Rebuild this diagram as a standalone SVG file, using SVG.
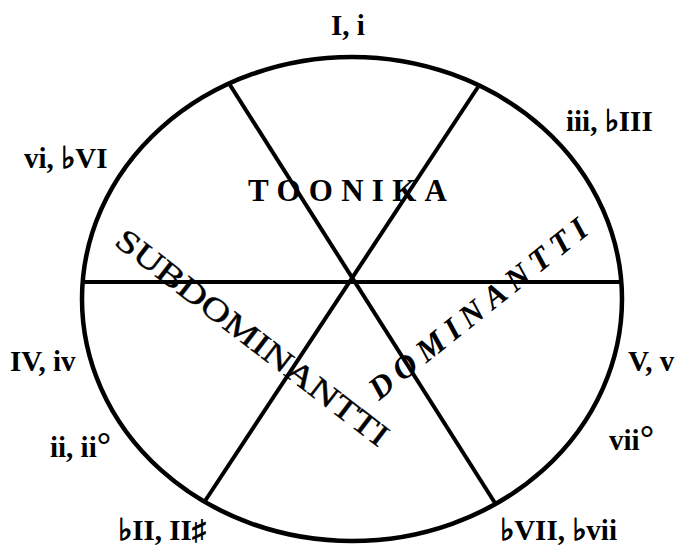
<svg xmlns="http://www.w3.org/2000/svg" width="682" height="551" viewBox="0 0 682 551">
<style>
.lbl{font-family:"Liberation Serif","DejaVu Serif",serif;font-weight:bold;font-size:29px;fill:#000}
.fl{font-family:"DejaVu Sans","Liberation Serif",sans-serif;font-weight:bold;font-size:30px;stroke:#000;stroke-width:1.2}
.big{font-family:"Liberation Serif","DejaVu Serif",serif;fill:#000}
.ln{stroke:#000;stroke-width:4;fill:none;stroke-linecap:butt}
</style>
<rect width="682" height="551" fill="#fff"/>
<g id="wheel">
<ellipse cx="352" cy="299" rx="270" ry="242" fill="none" stroke="#000" stroke-width="4.5"/>
</g>
<g id="connectors">
<line class="ln" x1="82" y1="282" x2="622" y2="282" stroke-width="4.5"/>
<line class="ln" x1="230" y1="85" x2="495" y2="503"/>
<line class="ln" x1="478" y1="87" x2="205" y2="501"/>
</g>
<g id="labels">
<text id="n-I" class="lbl" x="331" y="35">I, i</text>
<text id="n-iii" class="lbl" x="566" y="131">iii, <tspan class="fl">♭</tspan>III</text>
<text id="n-vi" class="lbl" x="24" y="168">vi, <tspan class="fl">♭</tspan>VI</text>
<text id="n-IV" class="lbl" x="10" y="371">IV, iv</text>
<text id="n-V" class="lbl" x="628" y="371">V, v</text>
<text id="n-ii" class="lbl" x="50" y="457">ii, ii<tspan font-size="36">°</tspan></text>
<text id="n-vii" class="lbl" x="609" y="450">vii<tspan font-size="36">°</tspan></text>
<text id="n-bII" class="lbl" x="118" y="540"><tspan class="fl">♭</tspan>II, II♯</text>
<text id="n-bVII" class="lbl" x="500" y="540"><tspan class="fl">♭</tspan>VII, <tspan class="fl">♭</tspan>vii</text>
</g>
<g id="areas">
<text id="toonika" class="big" font-weight="bold" font-size="31" x="248" y="201" textLength="199">TOONIKA</text>
<text id="subdominantti" class="big" font-size="32" stroke="#000" stroke-width="0.4" transform="translate(113,244) rotate(37.5)" textLength="335" lengthAdjust="spacingAndGlyphs">SUBDOMINANTTI</text>
<text id="dominantti" class="big" font-weight="bold" font-style="italic" font-size="32" transform="translate(379,401) rotate(-38.5)" textLength="270">DOMINANTTI</text>
</g>
</svg>
